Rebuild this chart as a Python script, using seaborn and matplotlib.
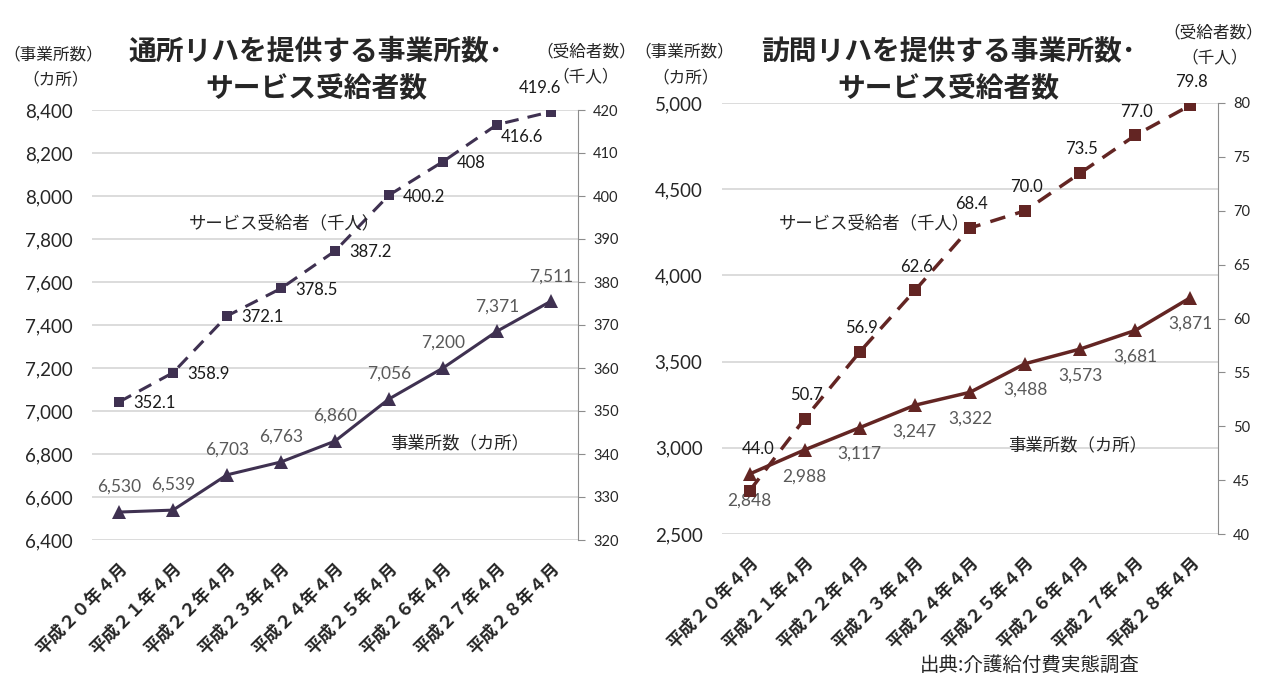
import numpy as np
import pandas as pd
import matplotlib.pyplot as plt
import seaborn as sns
from matplotlib.ticker import FuncFormatter, MultipleLocator

# data
months = ['平成２０年４月', '平成２１年４月', '平成２２年４月', '平成２３年４月', '平成２４年４月',
          '平成２５年４月', '平成２６年４月', '平成２７年４月', '平成２８年４月']
day_offices = [6530, 6539, 6703, 6763, 6860, 7056, 7200, 7371, 7511]
day_users = [352.1, 358.9, 372.1, 378.5, 387.2, 400.2, 408.0, 416.6, 419.6]
day_user_labels = ['352.1', '358.9', '372.1', '378.5', '387.2', '400.2', '408', '416.6', '419.6']
visit_offices = [2848, 2988, 3117, 3247, 3322, 3488, 3573, 3681, 3871]
visit_users = [44.0, 50.7, 56.9, 62.6, 68.4, 70.0, 73.5, 77.0, 79.8]
visit_user_labels = ['44.0', '50.7', '56.9', '62.6', '68.4', '70.0', '73.5', '77.0', '79.8']

sns.set_style('white')
plt.rcParams['font.family'] = ['Noto Sans CJK JP', 'DejaVu Sans']
NUM = 'Lato'
W, H = 1267, 680

fig = plt.figure(figsize=(W / 100, H / 100), dpi=100)


def px(x, y):
    return x / W, 1 - y / H


def draw(rect, offices, users, user_labels, color, left_lim, left_step, right_lim, right_step,
         off_offsets, user_offsets, sq, tri, lw):
    ax = fig.add_axes(rect)
    ax2 = ax.twinx()
    df = pd.DataFrame({'month': months, 'offices': offices, 'users': users})
    sns.lineplot(data=df, x='month', y='offices', ax=ax, color=color, marker='^', markersize=tri,
                 mec=color, mew=0, lw=lw, sort=False)
    sns.lineplot(data=df, x='month', y='users', ax=ax2, color=color, marker='s', markersize=sq,
                 mec=color, mew=0, lw=lw, sort=False, linestyle=(0, (4.5, 3)))
    for a in (ax, ax2):
        a.set_xlim(-0.5, 8.5)
        a.set_xlabel('')
        a.set_ylabel('')
        for s in a.spines.values():
            s.set_visible(False)
    ax.set_ylim(*left_lim)
    ax.yaxis.set_major_locator(MultipleLocator(left_step))
    ax.yaxis.set_major_formatter(FuncFormatter(lambda v, p: f'{v:,.0f}'))
    ax.grid(axis='y', color='#d9d9d9', lw=1.3)
    ax.grid(axis='x', visible=False)
    ax.tick_params(axis='y', length=0, pad=14, labelsize=13.5, labelfontfamily=NUM)
    ax.set_xticks(range(len(months)))
    ax.set_xticklabels(months, rotation=45, ha='right', rotation_mode='anchor',
                       fontsize=12.5, fontweight='bold')
    ax.tick_params(axis='x', length=0, pad=14)
    ax2.set_ylim(*right_lim)
    ax2.yaxis.set_major_locator(MultipleLocator(right_step))
    ax2.spines['right'].set_visible(True)
    ax2.spines['right'].set_color('#8c8c8c')
    ax2.tick_params(axis='y', direction='out', length=5, color='#8c8c8c', labelsize=10.5,
                    labelfontfamily=NUM, pad=6)
    ax2.grid(False)
    for i, v in enumerate(offices):
        dx, dy = off_offsets[i]
        ax.annotate(f'{v:,}', (i, v), xytext=(dx, dy), textcoords='offset points',
                    ha='center', va='center', fontsize=12.5, color='#595959', family=NUM)
    for i, v in enumerate(users):
        dx, dy, ha = user_offsets[i]
        ax2.annotate(user_labels[i], (i, v), xytext=(dx, dy), textcoords='offset points',
                     ha=ha, va='center', fontsize=12, color='#1a1a1a', family=NUM)
    return ax, ax2


left_rect = [px(92, 0)[0], px(0, 540)[1], (578 - 92) / W, (540 - 110) / H]
right_rect = [px(722, 0)[0], px(0, 534)[1], (1218 - 722) / W, (534 - 103) / H]

draw(left_rect, day_offices, day_users, day_user_labels, '#3f3151',
     (6400, 8400), 200, (320, 420), 10,
     [(0, 18)] * 9,
     [(10, -1, 'left')] * 7 + [(3, -9, 'left'), (-8, 17, 'center')],
     sq=7, tri=9.5, lw=2.2)
draw(right_rect, visit_offices, visit_users, visit_user_labels, '#632523',
     (2500, 5000), 500, (40, 80), 5,
     [(0, -19)] * 9,
     [(6, 30, 'center')] + [(1, 17, 'center')] * 8,
     sq=9, tri=10, lw=2.5)

# titles and unit labels
title_kw = dict(ha='center', va='center', fontsize=20, fontweight='bold', linespacing=1.4)
fig.text(*px(316, 71), '通所リハを提供する事業所数･\nサービス受給者数', **title_kw)
fig.text(*px(948, 71), '訪問リハを提供する事業所数･\nサービス受給者数', **title_kw)

unit_kw = dict(ha='center', va='center', fontsize=12)
fig.text(*px(53, 55), '（事業所数）', **unit_kw)
fig.text(*px(56, 80), '（カ所）', **unit_kw)
fig.text(*px(586, 52), '（受給者数）', **unit_kw)
fig.text(*px(586, 77), '（千人）', **unit_kw)
fig.text(*px(684, 52), '（事業所数）', **unit_kw)
fig.text(*px(686, 78), '（カ所）', **unit_kw)
fig.text(*px(1213, 33), '（受給者数）', **unit_kw)
fig.text(*px(1215, 58), '（千人）', **unit_kw)

series_kw = dict(ha='center', va='center', fontsize=12.5)
fig.text(*px(284, 223), 'サービス受給者（千人）', **series_kw)
fig.text(*px(460, 443), '事業所数（カ所）', **series_kw)
fig.text(*px(874, 223), 'サービス受給者（千人）', **series_kw)
fig.text(*px(1078, 445), '事業所数（カ所）', **series_kw)

fig.text(*px(1030, 665), '出典:介護給付費実態調査', ha='center', va='center', fontsize=14)

fig.savefig('out.png', dpi=100)
